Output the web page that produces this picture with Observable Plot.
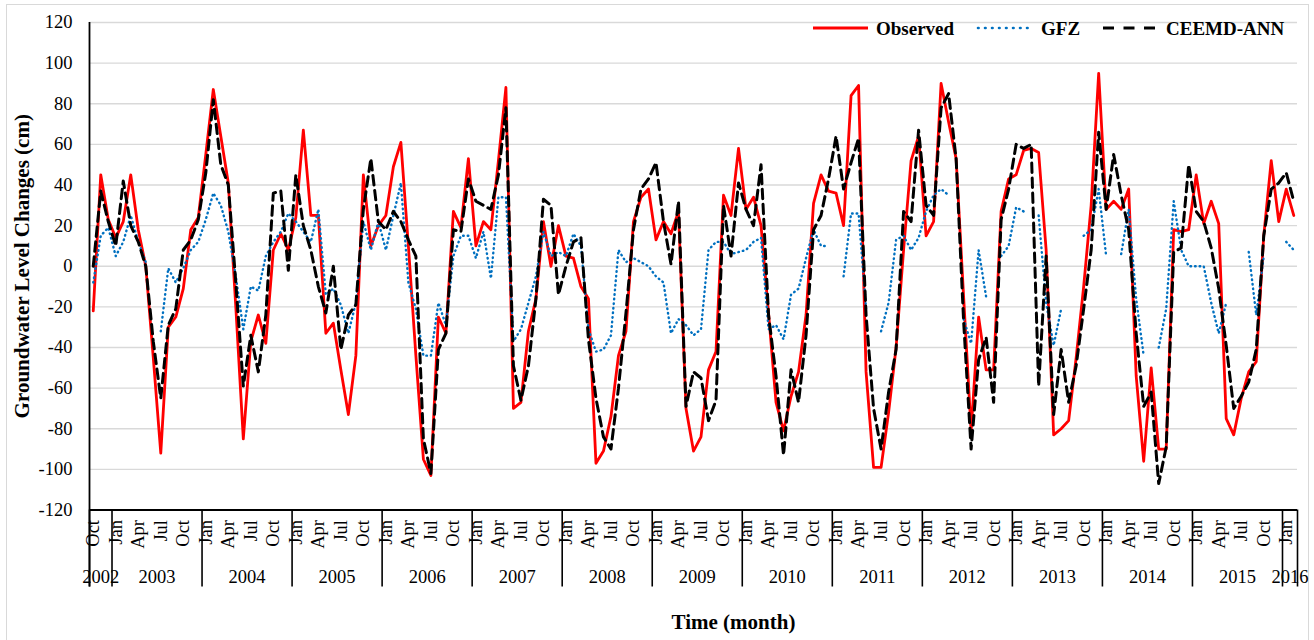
<!DOCTYPE html>
<html>
<head>
<meta charset="utf-8">
<script src="https://cdn.jsdelivr.net/npm/d3@7"></script>
<script src="https://cdn.jsdelivr.net/npm/@observablehq/plot@0.6"></script>
<style>
  html, body { margin: 0; padding: 0; background: #ffffff; }
  #wrap { position: relative; width: 1314px; height: 640px; overflow: hidden; font-family: "Liberation Serif", "Times New Roman", serif; }
  #frame { position: absolute; left: 6px; top: 4px; width: 1303px; height: 660px; border: 1.5px solid #d9d9d9; box-sizing: border-box; pointer-events: none; }
  #chart { position: absolute; left: 0; top: 0; }
  #legend { position: absolute; left: 0; top: 0; }
  #chart svg text { font-family: "Liberation Serif", "Times New Roman", serif; }
</style>
</head>
<body>
<div id="wrap"><div id="frame"></div><div id="chart"></div><div id="legend"></div></div>
<script>
// ---- Data (monthly, Oct 2002 .. Feb 2016) ----
const startYear = 2002;
const startMonthIndex = 9; // October
const observed = [
  -22, 45, 23,
  14, 22, 45, 18, 0, -45, -92, -30, -25, -11, 18, 24,
  55, 87, 64, 41, -20, -85, -37, -24, -38, 8, 16, 8,
  24, 67, 25, 25, -33, -28, -51, -73, -44, 45, 10, 20,
  25, 49, 61, 10, -44, -95, -103, -25, -33, 27, 19, 53,
  10, 22, 18, 52, 88, -70, -67, -32, -16, 22, 0, 20,
  5, 4, -10, -16, -97, -91, -74, -44, -32, 22, 34, 38,
  13, 22, 16, 27, -70, -91, -84, -51, -42, 35, 25, 58,
  28, 34, 20, -23, -67, -81, -64, -52, -24, 31, 45, 37,
  36, 20, 84, 89, -52, -99, -99, -72, -40, 8, 52, 64,
  15, 22, 90, 71, 53, -15, -81, -25, -51, -51, 27, 43,
  45, 57, 58, 56, 8, -83, -80, -76, -45, -10, 30, 95,
  28, 32, 28, 38, -54, -96, -50, -90, -90, 18, 17, 18,
  45, 21, 32, 21, -75, -83, -65, -52, -47, 15, 52, 22,
  38, 25
];
const gfz = [
  -8, 15, 19,
  5, 12, 25, 12, 2, null, -32, -1, -8, -1, 8, 12,
  23, 36, 30, 17, -5, -31, -10, -12, 5, 12, 17, 26,
  22, 17, 12, 28, -14, -11, -19, -33, -18, 22, 8, 22,
  8, 25, 41, -8, -21, -44, -44, -18, -29, 5, 15, 15,
  4, 17, -6, 34, 34, -37, -31, -18, -5, 17, 5, 7,
  5, 16, 10, -31, -42, -41, -34, 8, 2, 4, 2, 0,
  -5, -8, -33, -26, -29, -34, -31, 8, 12, 12, 6, 7,
  8, 12, 14, -31, -29, -36, -14, -11, 4, 18, 10, 10,
  null, -5, 26, 26, -21, null, -32, -18, 13, 15, 8, 14,
  27, 35, 38, 35, null, -26, -38, 8, -15, null, 5, 10,
  29, 27, null, 25, -18, -39, -21, null, null, 15, 18, 38,
  5, null, 6, 28, -16, -44, null, -40, -21, 32, 8, 0,
  0, 0, -18, -33, -18, null, null, 7, -24, 5, null, null,
  12, 8
];
const ceemdAnn = [
  0, 37, 22,
  10, 42, 20, 12, 0, -37, -65, -29, -21, 8, 13, 23,
  46, 82, 50, 40, -8, -59, -34, -52, -24, 36, 37, -2,
  45, 20, 8, -10, -23, 0, -41, -24, -19, 28, 53, 22,
  18, 27, 22, 13, 5, -85, -102, -41, -33, 18, 17, 43,
  32, 30, 28, 45, 78, -49, -66, -49, -16, 33, 30, -14,
  0, 12, 14, -36, -65, -84, -90, -60, -23, 18, 38, 43,
  51, 22, 1, 32, -69, -52, -55, -76, -66, 30, 5, 41,
  28, 20, 50, -24, -54, -93, -51, -67, -34, 18, 25, 43,
  64, 38, 51, 63, -24, -70, -90, -62, -41, 27, 22, 67,
  30, 25, 78, 85, 53, -27, -90, -46, -35, -67, 23, 38,
  60, 58, 60, -59, 5, -73, -41, -67, -49, -21, 8, 66,
  28, 55, 35, 18, -33, -69, -62, -107, -89, 7, 9, 50,
  27, 22, 9, -11, -39, -70, -64, -57, -41, 15, 38, 41,
  46, 32
];
const monthNames = ["Jan","Feb","Mar","Apr","May","Jun","Jul","Aug","Sep","Oct","Nov","Dec"];
const yTicks = [-120, -100, -80, -60, -40, -20, 0, 20, 40, 60, 80, 100, 120];
const seriesNames = ["Observed", "GFZ", "CEEMD-ANN"];
const yTitle = "Groundwater Level Changes (cm)";
const xTitle = "Time (month)";

// ---- Build table ----
const rows = observed.map((v, i) => {
  const m = startMonthIndex + i;
  return {
    pos: i + 0.5,
    idx: i,
    year: startYear + Math.floor(m / 12),
    month: m % 12,
    observed: v,
    gfz: gfz[i],
    ceemd: ceemdAnn[i]
  };
});
const n = rows.length;
const monthLabels = rows.filter(r => r.idx % 3 === 0).map(r => ({pos: r.pos, label: monthNames[r.month]}));
const yearGroups = d3.groups(rows, r => r.year).map(([yr, rs]) => ({
  year: String(yr),
  start: rs[0].idx,
  end: rs[rs.length - 1].idx + 1
}));
const boundaries = Array.from(new Set(yearGroups.flatMap(g => [g.start, g.end])));

const font = '"Liberation Serif", "Times New Roman", serif';
const W = 1314, H = 640;

const chart = Plot.plot({
  width: W,
  height: H,
  marginLeft: 89,
  marginRight: 17,
  marginTop: 22,
  marginBottom: 130.5,
  style: {fontFamily: font, fontSize: "18.5px", color: "#000", background: "transparent", overflow: "visible"},
  x: {domain: [0, n], axis: null},
  y: {domain: [-120, 120], axis: null},
  marks: [
    Plot.gridY(yTicks, {stroke: "#d9d9d9", strokeOpacity: 1, strokeWidth: 1.3}),
    Plot.axisY(yTicks, {tickSize: 0, tickPadding: 17, tickFormat: d => String(d), fontSize: 18.5, fontFamily: font, label: null, fill: "#000"}),
    // series
    Plot.line(rows, {x: "pos", y: "observed", stroke: "#ff0000", strokeWidth: 2.8, strokeLinejoin: "round"}),
    Plot.line(rows, {x: "pos", y: "gfz", stroke: "#0070c0", strokeWidth: 2.4, strokeLinecap: "round", strokeDasharray: "0.6,4"}),
    Plot.line(rows, {x: "pos", y: "ceemd", stroke: "#000", strokeWidth: 3, strokeDasharray: "9.5,5.5"}),
    // axes lines
    Plot.ruleY([-120], {stroke: "#000", strokeWidth: 1.8}),
    Plot.ruleX([0], {y1: 120, y2: -120, insetBottom: -77, stroke: "#000", strokeWidth: 1.8}),
    Plot.ruleX(boundaries, {x: d => d, y1: -120, y2: -120, insetBottom: -77, stroke: "#000", strokeWidth: 1.6}),
    // category labels
    Plot.text(monthLabels, {x: "pos", y: () => -120, text: "label", rotate: -90, textAnchor: "end", lineAnchor: "middle", dy: 10, fontSize: 18.5, fontFamily: font, fill: "#000"}),
    Plot.text(yearGroups, {x: d => (d.start + d.end) / 2, y: () => -120, text: "year", dy: 67, lineAnchor: "middle", fontSize: 18.5, fontFamily: font, fill: "#000"}),
    // titles
    Plot.text([yTitle], {frameAnchor: "left", dx: -67, rotate: -90, textAnchor: "middle", lineAnchor: "middle", fontWeight: "bold", fontSize: 21, fontFamily: font, fill: "#000"}),
    Plot.text([xTitle], {frameAnchor: "bottom", dx: 40, dy: 112, textAnchor: "middle", lineAnchor: "middle", fontWeight: "bold", fontSize: 21, fontFamily: font, fill: "#000"})
  ]
});
document.getElementById("chart").appendChild(chart);

// ---- Legend (inside plot, top right) ----
const legendItems = [
  {name: seriesNames[0], stroke: "#ff0000", width: 3, dash: null, cap: "butt", x0: 813},
  {name: seriesNames[1], stroke: "#0070c0", width: 2.6, dash: "0.6,6.4", cap: "round", x0: 978},
  {name: seriesNames[2], stroke: "#000", width: 3.2, dash: "11,9.5", cap: "butt", x0: 1103}
];
const lg = d3.select("#legend").append("svg").attr("width", W).attr("height", 50)
  .style("font-family", font);
legendItems.forEach(it => {
  lg.append("line").attr("x1", it.x0).attr("x2", it.x0 + 55).attr("y1", 28).attr("y2", 28)
    .attr("stroke", it.stroke).attr("stroke-width", it.width)
    .attr("stroke-linecap", it.cap)
    .attr("stroke-dasharray", it.dash);
  lg.append("text").attr("x", it.x0 + 63).attr("y", 28).attr("dy", "0.35em")
    .attr("font-size", 19).attr("font-weight", "bold").attr("fill", "#000").text(it.name);
});
</script>
</body>
</html>
